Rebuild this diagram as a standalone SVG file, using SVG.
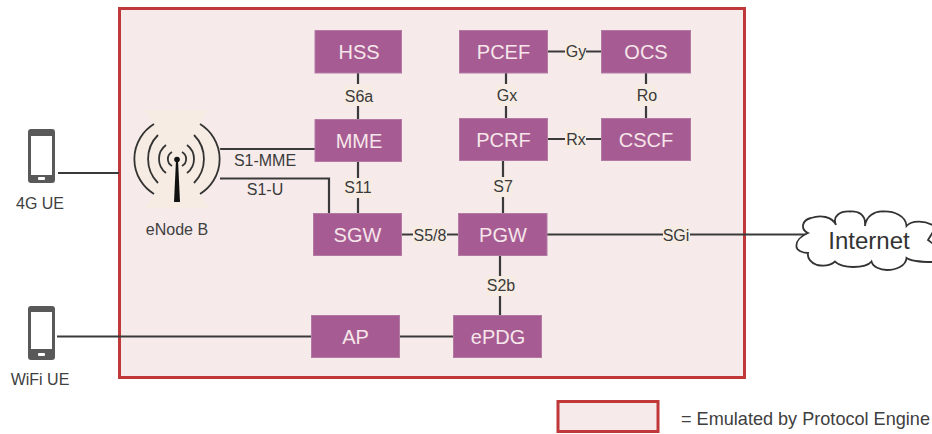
<svg xmlns="http://www.w3.org/2000/svg" width="932" height="434" viewBox="0 0 932 434">
<style>
text{font-family:"Liberation Sans",Arial,sans-serif}
.n rect{fill:#a65c92;stroke:#b27aa3;stroke-width:1}
.n text{fill:#f6e6ea;font-size:20px;text-anchor:middle}
.c{fill:none;stroke:#3a3a3a;stroke-width:2.2}
.lb{fill:#f7ece3}
.l{fill:#3a3a3a;font-size:16px;text-anchor:middle}
.t{fill:#404040;font-size:16px;text-anchor:middle}
.ph{fill:#595959}
.em{fill:#f7eaeb;stroke:#c0383a;stroke-width:3}
</style>
<rect x="0" y="0" width="932" height="434" fill="#fff"/>
<rect id="boundary" class="em" x="119.500" y="8.500" width="625" height="369"/>
<g id="connectors">
<path class="c" d="M58 173H119"/>
<path class="c" d="M57 336.500H315"/>
<path class="c" d="M220 149H316"/>
<path class="c" d="M220 178.500H329V214"/>
<path class="c" d="M358 72V120"/>
<path class="c" d="M358 161V214"/>
<path class="c" d="M506 71V119"/>
<path class="c" d="M646 73V119"/>
<path class="c" d="M547 51.500H602"/>
<path class="c" d="M547 139H602"/>
<path class="c" d="M503 159V214"/>
<path class="c" d="M401 234.500H459"/>
<path class="c" d="M500 254V316"/>
<path class="c" d="M399 336.500H455"/>
<path class="c" d="M547 234.500H806"/>
<g id="link-labels">
<rect class="lb" x="344" y="84" width="29" height="22"/><text class="l" x="359" y="101.500">S6a</text>
<rect class="lb" x="344" y="178" width="29" height="20"/><text class="l" x="358" y="192.500">S11</text>
<rect class="lb" x="497" y="84" width="20" height="22"/><text class="l" x="507" y="101">Gx</text>
<rect class="lb" x="636" y="84" width="21" height="22"/><text class="l" x="647" y="101">Ro</text>
<rect class="lb" x="565" y="41" width="21" height="21"/><text class="l" x="576" y="57">Gy</text>
<rect class="lb" x="565" y="128" width="21" height="21"/><text class="l" x="576" y="145">Rx</text>
<rect class="lb" x="494" y="177" width="19" height="20"/><text class="l" x="503" y="191.500">S7</text>
<rect class="lb" x="413" y="226" width="34" height="19"/><text class="l" x="430" y="241">S5/8</text>
<rect class="lb" x="486" y="276" width="29" height="20"/><text class="l" x="501" y="291">S2b</text>
<rect class="lb" x="663" y="226" width="27" height="19"/><text class="l" x="676" y="241">SGi</text>
<text class="l" x="265" y="166">S1-MME</text>
<text class="l" x="265" y="195">S1-U</text>
</g>
</g>
<g id="ue-4g">
<rect class="ph" x="28" y="129" width="27" height="54" rx="3"/>
<rect x="31" y="136" width="21" height="39" fill="#fff"/>
<rect x="38" y="177" width="7" height="3" rx="1" fill="#fff"/>
<text class="t" x="40" y="209">4G UE</text>
</g>
<g id="ue-wifi">
<rect class="ph" x="28" y="306" width="27" height="54" rx="3"/>
<rect x="31" y="312" width="21" height="37" fill="#fff"/>
<rect x="38" y="353" width="7" height="3" rx="1" fill="#fff"/>
<text class="t" x="40" y="385">WiFi UE</text>
</g>
<g id="enodeb">
<path d="M145 110H209L200 123A41 41 0 0 1 200 195L209 208H145L154 195A41 41 0 0 1 154 123Z" fill="#f7ece3"/>
<g fill="none" stroke="#333" stroke-width="1.800">
<path d="M154 124A41 41 0 0 0 154 194"/><path d="M200 124A41 41 0 0 1 200 194"/>
<path d="M158 135A34 34 0 0 0 158 183"/><path d="M194 135A34 34 0 0 1 194 183"/>
<path d="M166 145A17.500 17.500 0 0 0 166 173"/><path d="M187 145A17.500 17.500 0 0 1 187 173"/>
<path d="M172 152A8 8 0 0 0 172 166"/><path d="M182 152A8 8 0 0 1 182 166"/>
</g>
<circle cx="177" cy="159.500" r="2.800" fill="#111"/>
<path d="M176 160H178L180 202H174Z" fill="#111"/>
<text class="t" x="177" y="235">eNode B</text>
</g>
<g id="hss" class="n"><rect x="315" y="30.500" width="86.500" height="42.500"/><text x="359" y="58.500">HSS</text></g>
<g id="mme" class="n"><rect x="315" y="119.500" width="86.500" height="42"/><text x="359" y="147.500">MME</text></g>
<g id="pcef" class="n"><rect x="459.500" y="30.500" width="88" height="42.500"/><text x="503.500" y="58.500">PCEF</text></g>
<g id="ocs" class="n"><rect x="601.500" y="30.500" width="89" height="42.500"/><text x="646" y="58.500">OCS</text></g>
<g id="pcrf" class="n"><rect x="459.500" y="118.500" width="88" height="42"/><text x="503.500" y="146.500">PCRF</text></g>
<g id="cscf" class="n"><rect x="601.500" y="118.500" width="89" height="42"/><text x="646" y="146.500">CSCF</text></g>
<g id="sgw" class="n"><rect x="313.500" y="213.500" width="88" height="42"/><text x="357.500" y="241.500">SGW</text></g>
<g id="pgw" class="n"><rect x="458.500" y="213.500" width="88.500" height="42"/><text x="503" y="241.500">PGW</text></g>
<g id="ap" class="n"><rect x="311.500" y="315.500" width="88" height="42"/><text x="355.500" y="344">AP</text></g>
<g id="epdg" class="n"><rect x="453.500" y="315.500" width="88" height="42"/><text x="498" y="344">ePDG</text></g>
<g id="internet">
<path d="M808 233C800 229 802 220 811 218C820 215 832 216 836 225C832 216 840 211 850 211.500C858 211 866 214 865 226C866 216 875 211 883 211.500C894 211 906 216 906.500 226C911 221 924 219 936 227L928 240L936 246V262C925 262 912 262 906.500 258C906 266 896 270 887 270C880 270 873 267 871.500 261.500C868 266 860 267 853 267C846 267 838 265 835 261.500C830 266 822 266 817 265C811 263 807 258 808 253C802 253 796 250 796.500 246C796 241 801 236 808 233Z" fill="#fff" stroke="#333" stroke-width="1.800"/>
<text x="869" y="249" fill="#333" font-size="24" text-anchor="middle">Internet</text>
</g>
<g id="legend">
<rect class="em" x="558" y="401.500" width="100" height="30"/>
<text x="681" y="425" fill="#404040" font-size="18.100">= Emulated by Protocol Engine</text>
</g>
</svg>
